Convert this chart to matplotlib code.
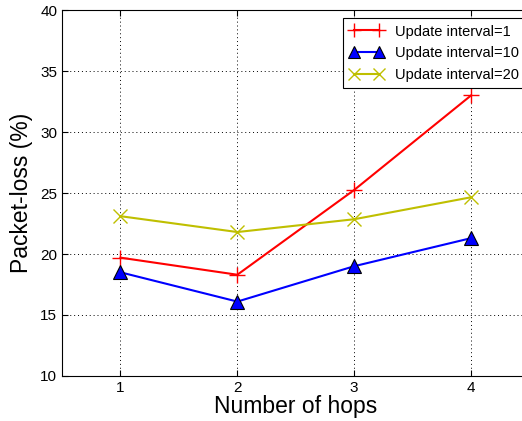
import matplotlib
matplotlib.use("Agg")
import matplotlib.pyplot as plt

plt.rcParams['font.family'] = ['Liberation Sans', 'DejaVu Sans']

hops = [1, 2, 3, 4]
interval_1 = [19.7, 18.3, 25.25, 33.0]
interval_10 = [18.5, 16.1, 19.0, 21.3]
interval_20 = [23.1, 21.8, 22.85, 24.65]
labels = ["Update interval=1", "Update interval=10", "Update interval=20"]
yticks = [10, 15, 20, 25, 30, 35, 40]

fig = plt.figure(figsize=(5.22, 4.21), dpi=100)
ax = fig.add_axes([0.1188, 0.1069, 0.8956, 0.8693])

ax.plot(hops, interval_1, color='#ff0000', lw=1.5, marker='+', ms=11, mew=1.0, label=labels[0])
ax.plot(hops, interval_10, color='#0000ff', lw=1.5, marker='^', ms=10, mfc='#0000ff', mec='black', mew=0.8, label=labels[1])
ax.plot(hops, interval_20, color='#bfbf00', lw=1.5, marker='x', ms=10, mew=1.0, label=labels[2])

ax.set_xlim(0.5, 4.5)
ax.set_ylim(10, 40)
ax.set_xticks(hops)
ax.set_yticks(yticks)
ax.tick_params(direction='in', top=True, right=True, labelsize=11, length=4)
ax.grid(True, linestyle=(0, (1, 3)), color='black', lw=0.7)
for s in ax.spines.values():
    s.set_linewidth(0.8)

ax.set_xlabel("Number of hops", fontsize=16.5, labelpad=0)
ax.set_ylabel("Packet-loss (%)", fontsize=16.5, labelpad=5)

leg = ax.legend(loc='upper left', bbox_to_anchor=(343 / 522, 1 - 18 / 421),
                bbox_transform=fig.transFigure, fontsize=10.5, fancybox=False,
                framealpha=1, edgecolor='black', borderpad=0.45, labelspacing=0.52,
                handlelength=2.3, handletextpad=0.8, borderaxespad=0, numpoints=2,
                markerscale=0.9)
leg.get_frame().set_linewidth(0.8)

fig.savefig("out.png", dpi=100)
